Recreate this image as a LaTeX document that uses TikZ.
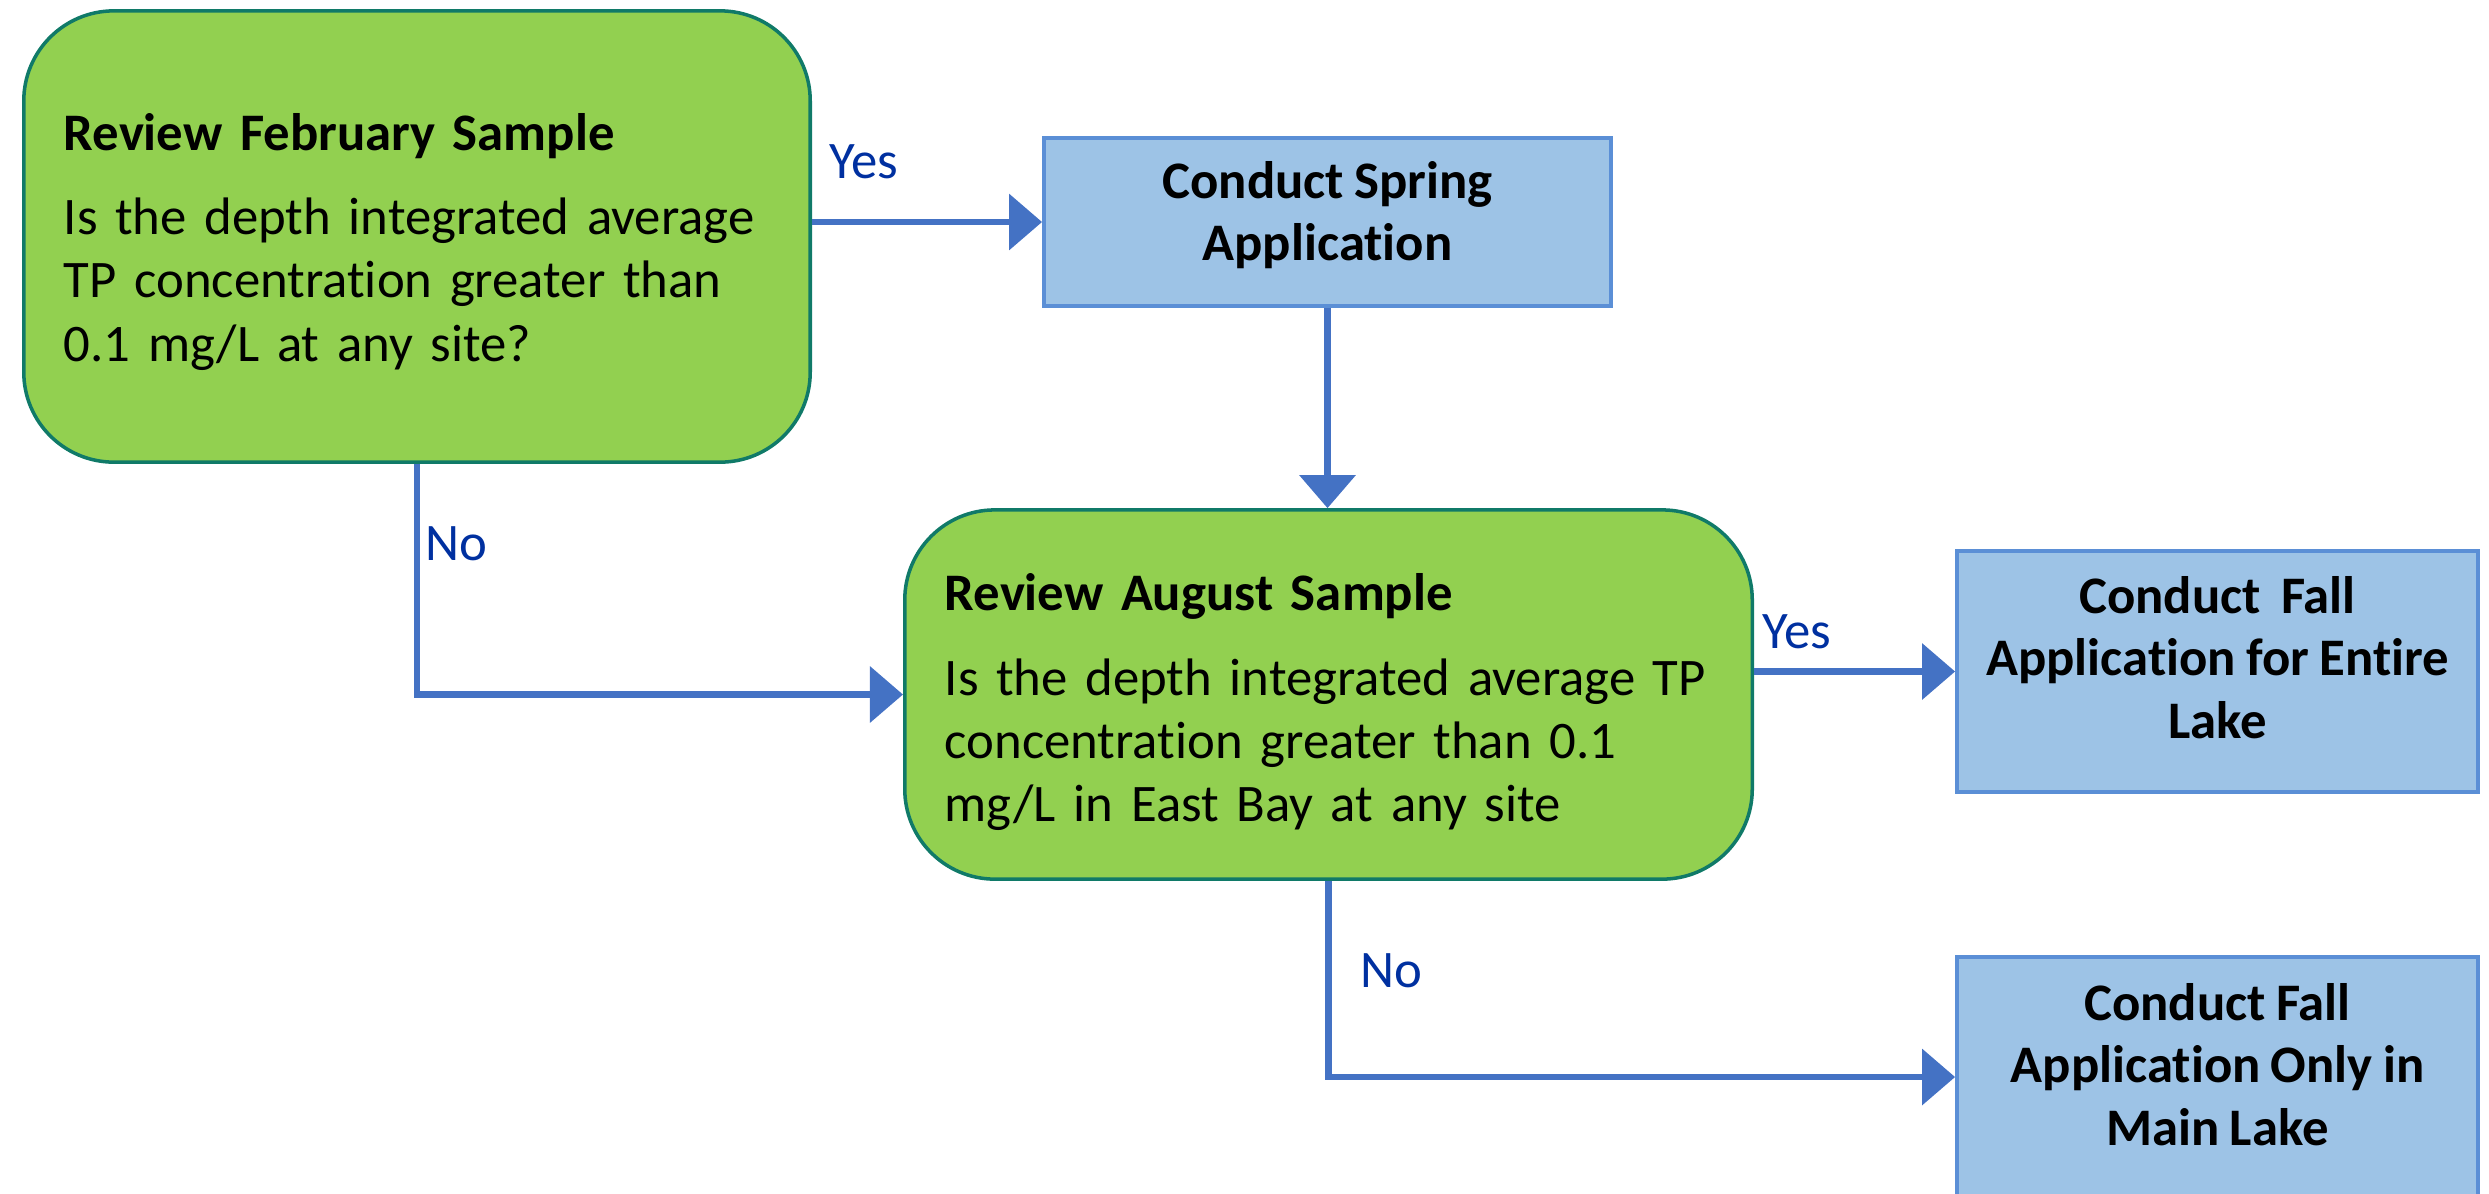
\documentclass[tikz,border=0pt]{standalone}
\usepackage{fontspec}
\setmainfont{Carlito}[Ligatures=NoCommon, WordSpace=0.85]
\usetikzlibrary{arrows.meta}

\definecolor{boxgreen}{RGB}{146,208,80}
\definecolor{greenedge}{RGB}{16,122,104}
\definecolor{boxblue}{RGB}{157,195,230}
\definecolor{blueedge}{RGB}{91,143,214}
\definecolor{flowblue}{RGB}{68,114,196}
\definecolor{labelblue}{RGB}{0,48,160}

\begin{document}
\begin{tikzpicture}[x=0.01cm, y=-0.01cm,
  question/.style={draw=greenedge, line width=1pt, fill=boxgreen, rounded corners=0.9cm,
    align=left, inner xsep=0.4cm, inner ysep=0pt, font=\fontsize{15}{18}\selectfont},
  action/.style={draw=blueedge, line width=1pt, fill=boxblue, align=center, inner sep=0pt,
    font=\fontsize{15}{17.8}\selectfont\bfseries},
  flow/.style={draw=flowblue, line width=1.9pt, -{Triangle[length=0.33cm,width=0.55cm]}},
  answer/.style={text=labelblue, inner sep=0pt, font=\fontsize{15}{18}\selectfont}]

\useasboundingbox (0,0) rectangle (2489,1193);
\clip (0,0) rectangle (2489,1193);

\node [question, text width=7.06cm, minimum height=4.51cm] (feb) at (417,236.5)
  {\rule{0pt}{13.5pt}\textbf{Review February Sample}\\[6pt] Is the depth integrated average\\ TP concentration greater than\\ 0.1 mg/L at any site?};
\node [action, minimum width=5.67cm, minimum height=1.68cm] (spring) at (1327.5,222)
  {Conduct Spring\\ Application\rule[-6.2pt]{0pt}{0pt}};
\node [question, text width=7.67cm, minimum height=3.69cm] (aug) at (1328.5,694.5)
  {\rule{0pt}{15pt}\textbf{Review August Sample}\\[6pt] Is the depth integrated average TP\\ concentration greater than 0.1\\ mg/L in East Bay at any site};
\node [action, minimum width=5.21cm, minimum height=2.41cm] (entire) at (2217.5,671.5)
  {Conduct~ Fall\\ Application for Entire\\ Lake\rule[-8pt]{0pt}{0pt}};
\node [action, minimum width=5.21cm, minimum height=2.40cm] (main) at (2217.5,1077)
  {Conduct Fall\\ Application Only in\\ Main Lake\rule[-7.2pt]{0pt}{0pt}};

\draw [flow] (feb.east |- spring.west) -- (spring.west);
\draw [flow] (spring.south) -- (spring.south |- aug.north);
\draw [flow] (feb.south) |- (aug.west);
\draw [flow] (aug.east |- entire.west) -- (entire.west);
\draw [flow] (aug.south) |- (main.west);

\node [answer, anchor=base west] (yes1) at (829,178) {Yes};
\node [answer, anchor=base west] (no1) at (425,560) {No};
\node [answer, anchor=base west] (yes2) at (1762,648) {Yes};
\node [answer, anchor=base west] (no2) at (1360,987) {No};

\end{tikzpicture}
\end{document}
